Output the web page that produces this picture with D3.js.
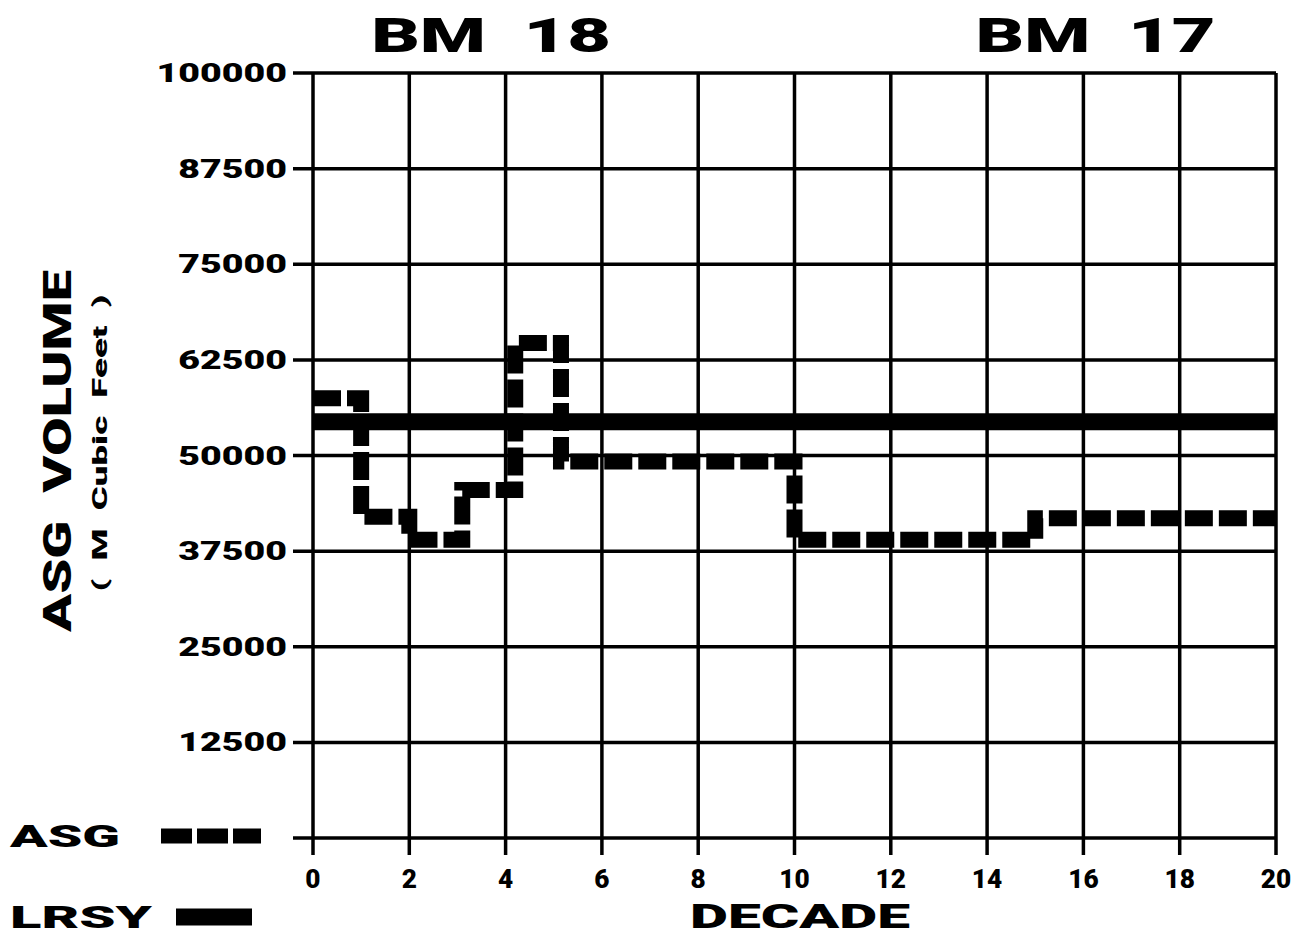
<!DOCTYPE html>
<html><head><meta charset="utf-8">
<script src="https://cdn.jsdelivr.net/npm/d3@7"></script>
<style>body{margin:0;background:#fff}svg{display:block}</style>
</head><body>
<svg id="c" width="1302" height="935"></svg>
<script>
// ---- data ----
const decadeTicks = [0, 2, 4, 6, 8, 10, 12, 14, 16, 18, 20];
const decadeTickLabels = ["0","2","4","6","8","10","12","14","16","18","20"];
const volumeTicks = [0, 12500, 25000, 37500, 50000, 62500, 75000, 87500, 100000];
const volumeTickLabels = ["", "12500", "25000", "37500", "50000", "62500", "75000", "87500", "100000"];
const asgDecades = [0, 1, 2, 3.1, 4.2, 5.15, 10, 15, 20];
const asgVolumes = [57500, 42000, 39000, 45500, 64700, 49200, 39000, 41800, 41800];
const lrsyDecades = [0, 20];
const lrsyVolumes = [54400, 54400];
const topLabels = [{decade: 3.7, text: "BM 18"}, {decade: 16.25, text: "BM 17"}];

// ---- layout ----
const svg = d3.select("#c");
const FONT = "Roboto, 'Liberation Sans', sans-serif";
const x = d3.scaleLinear().domain([0, 20]).range([313, 1276]);
const y = d3.scaleLinear().domain([0, 100000]).range([838, 73]);

function fitTo(sel, width) {
  sel.each(function () {
    const w = typeof width === "function" ? width.apply(this, arguments) : width;
    d3.select(this).attr("textLength", w).attr("lengthAdjust", "spacingAndGlyphs");
  });
}
function fit(sel, factor) {
  sel.each(function () {
    const L = this.getComputedTextLength();
    d3.select(this).attr("textLength", L * factor).attr("lengthAdjust", "spacingAndGlyphs");
  });
}

// gridlines
const grid = svg.append("g").attr("stroke", "#000").attr("stroke-width", 3.5);
grid.selectAll("line.h").data(volumeTicks).join("line")
  .attr("x1", x(0) - 20).attr("x2", x(20))
  .attr("y1", d => y(d)).attr("y2", d => y(d));
grid.selectAll("line.v").data(decadeTicks).join("line")
  .attr("x1", d => x(d)).attr("x2", d => x(d))
  .attr("y1", y(100000)).attr("y2", y(0) + 17);

// y tick labels
svg.append("g").selectAll("text").data(volumeTicks).join("text")
  .attr("x", x(0) - 26).attr("y", d => y(d) + 9)
  .attr("text-anchor", "end")
  .attr("font-family", FONT).attr("font-weight", 900).attr("font-size", 25)
  .text((d, i) => volumeTickLabels[i])
  .call(fit, 1.5);

// x tick labels
svg.append("g").selectAll("text").data(decadeTicks).join("text")
  .attr("x", d => x(d)).attr("y", 888)
  .attr("text-anchor", "middle")
  .attr("font-family", FONT).attr("font-weight", 900).attr("font-size", 25)
  .text((d, i) => decadeTickLabels[i])
  .call(fit, 1.05);

// series
const line = d3.line().x(d => x(d[0])).y(d => y(d[1]));
svg.append("path")
  .datum(lrsyDecades.map((d, i) => [d, lrsyVolumes[i]]))
  .attr("d", line)
  .attr("fill", "none").attr("stroke", "#000").attr("stroke-width", 17);
svg.append("path")
  .datum(asgDecades.map((d, i) => [d, asgVolumes[i]]))
  .attr("d", line.curve(d3.curveStepAfter))
  .attr("fill", "none").attr("stroke", "#000").attr("stroke-width", 16)
  .attr("stroke-dasharray", "28,6");

// titles
svg.append("g").selectAll("text").data(topLabels).join("text")
  .attr("x", d => x(d.decade)).attr("y", 52)
  .attr("text-anchor", "middle")
  .attr("font-family", FONT).attr("font-weight", 900).attr("font-size", 48)
  .attr("xml:space", "preserve")
  .text(d => d.text.replace(" ", "  "))
  .call(fitTo, 240);

// x axis title
svg.append("text").attr("x", 800).attr("y", 928).attr("text-anchor", "middle")
  .attr("font-family", FONT).attr("font-weight", 900).attr("font-size", 34)
  .text("DECADE").call(fitTo, 220);

// y axis titles
svg.append("text").attr("transform", "translate(71,451) rotate(-90)")
  .attr("text-anchor", "middle")
  .attr("font-family", FONT).attr("font-weight", 900).attr("font-size", 38)
  .attr("xml:space", "preserve")
  .text("ASG  VOLUME").call(fitTo, 362);
svg.append("text").attr("transform", "translate(107,443) rotate(-90)")
  .attr("text-anchor", "middle")
  .attr("font-family", FONT).attr("font-weight", 900).attr("font-size", 21)
  .attr("xml:space", "preserve")
  .text("(  M  Cubic  Feet  )").call(fitTo, 297);

// legend
const legend = [{name: "ASG", y: 836, dashed: true, w: 110}, {name: "LRSY", y: 917, dashed: false, w: 142}];
const lg = svg.append("g");
lg.selectAll("text").data(legend).join("text")
  .attr("x", 10).attr("y", d => d.y + 11)
  .attr("font-family", FONT).attr("font-weight", 900).attr("font-size", 31)
  .text(d => d.name).call(fitTo, d => d.w);
lg.selectAll("line").data(legend).join("line")
  .attr("x1", d => d.dashed ? 161 : 176).attr("x2", d => d.dashed ? 261 : 252)
  .attr("y1", d => d.y).attr("y2", d => d.y)
  .attr("stroke", "#000").attr("stroke-width", d => d.dashed ? 15 : 17)
  .attr("stroke-dasharray", d => d.dashed ? "31,5" : null);
</script>
</body></html>
